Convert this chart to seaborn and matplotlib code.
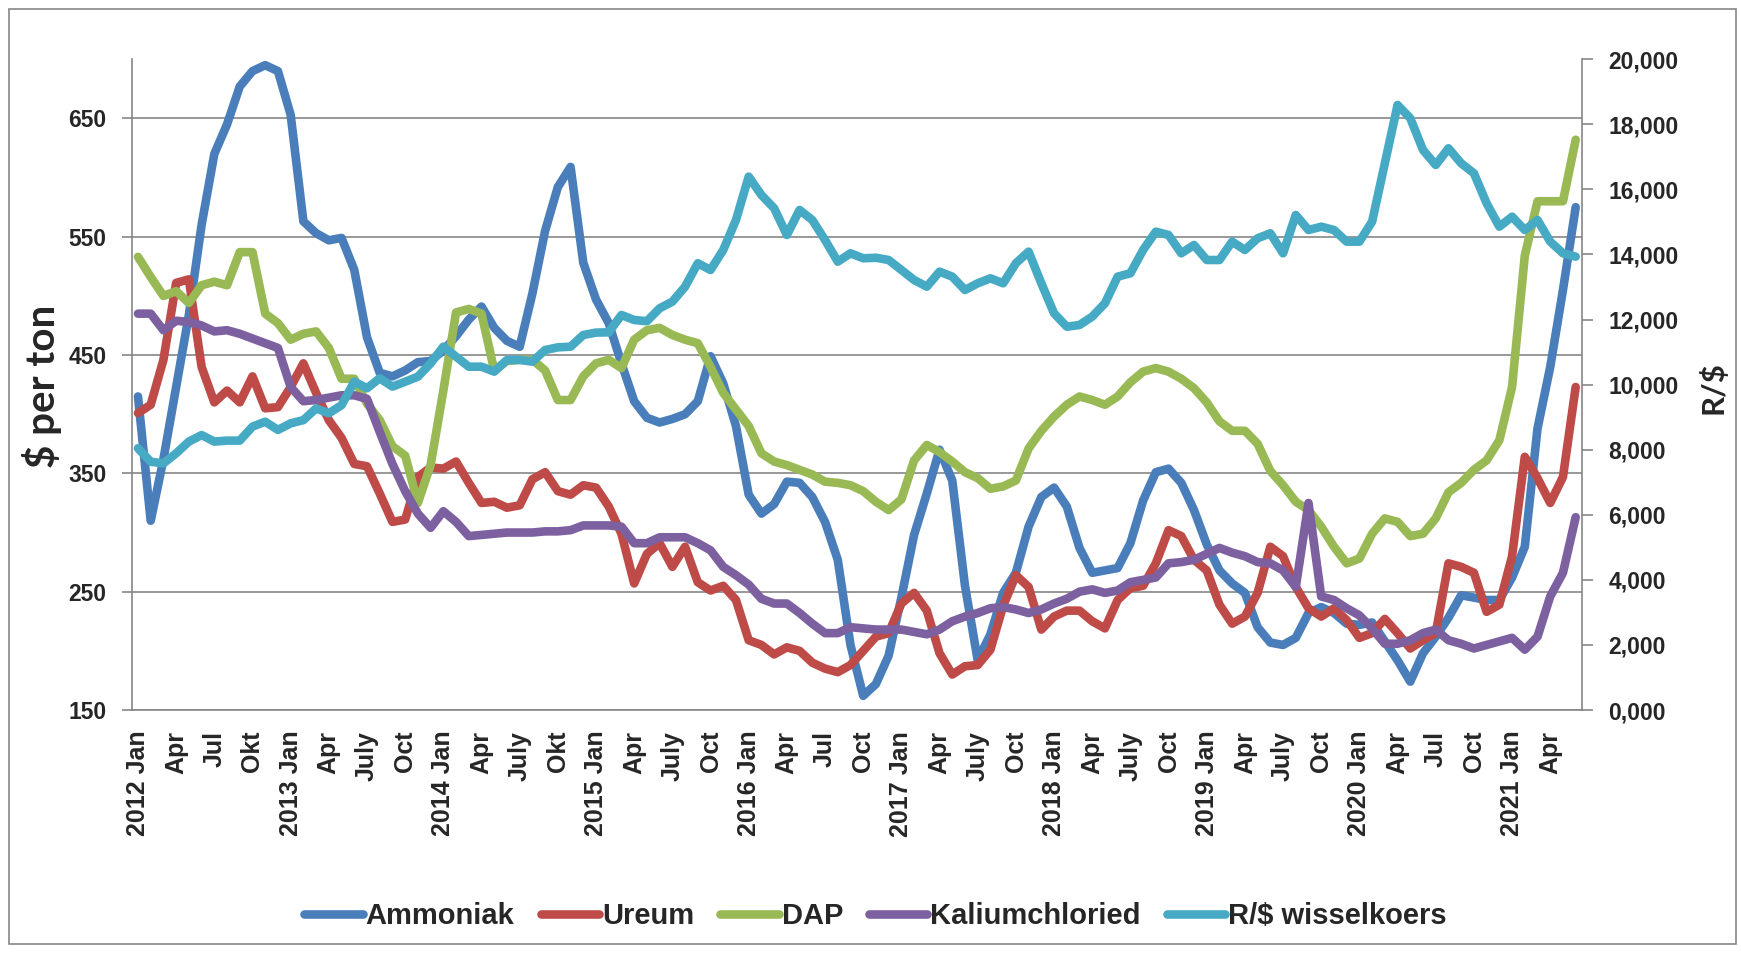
import numpy as np
import pandas as pd
import matplotlib
matplotlib.use("Agg")
import matplotlib.pyplot as plt
from matplotlib.patches import Rectangle
from matplotlib.ticker import FixedLocator
import seaborn as sns

# monthly prices, 2012 Jan .. 2021 Jun (114 months)
ammoniak = [415, 310, 362, 423, 484, 560, 620, 645, 677, 690, 695, 690,
            653, 563, 553, 547, 549, 522, 465, 435, 432, 437, 444, 445,
            454, 466, 480, 491, 473, 462, 457, 502, 555, 592, 609, 528,
            497, 477, 443, 411, 397, 393, 396, 400, 411, 449, 426, 390,
            332, 316, 324, 343, 342, 330, 309, 277, 205, 162, 172, 196,
            245, 298, 333, 370, 344, 255, 192, 214, 249, 266, 305, 330,
            338, 322, 287, 266, 268, 270, 291, 327, 351, 354, 342, 319,
            290, 268, 257, 249, 220, 207, 205, 211, 232, 237, 232, 223,
            222, 224, 208, 192, 174, 198, 212, 228, 247, 245, 243, 243,
            262, 288, 388, 440, 505, 575]
ureum = [401, 408, 446, 511, 514, 440, 410, 420, 410, 432, 405, 406,
         423, 443, 418, 395, 380, 358, 356, 333, 309, 311, 347, 355,
         354, 360, 342, 325, 326, 321, 323, 345, 351, 335, 332, 340,
         338, 322, 299, 257, 282, 291, 271, 288, 258, 251, 255, 243,
         209, 205, 197, 203, 200, 190, 185, 182, 188, 200, 212, 215,
         240, 249, 234, 198, 180, 187, 188, 201, 238, 264, 254, 218,
         229, 234, 234, 225, 219, 243, 253, 255, 274, 302, 297, 277,
         268, 239, 223, 229, 249, 288, 280, 254, 236, 229, 236, 226,
         211, 215, 227, 215, 202, 209, 215, 274, 271, 266, 233, 239,
         280, 364, 346, 325, 347, 423]
dap = [533, 516, 500, 504, 494, 509, 512, 509, 537, 537, 485, 477,
       463, 468, 470, 456, 430, 430, 409, 395, 373, 365, 325, 357,
       420, 486, 489, 485, 437, 445, 446, 446, 437, 412, 412, 432,
       443, 446, 439, 463, 471, 473, 467, 463, 460, 440, 418, 404,
       390, 367, 360, 357, 353, 349, 343, 342, 340, 335, 326, 319,
       328, 361, 374, 368, 360, 351, 346, 337, 339, 344, 371, 386,
       398, 408, 415, 412, 408, 415, 427, 436, 439, 436, 430, 422,
       410, 394, 386, 386, 375, 352, 340, 326, 319, 305, 288, 274,
       278, 299, 312, 309, 297, 299, 312, 334, 342, 353, 361, 378,
       423, 534, 580, 580, 580, 632]
kalium = [485, 485, 471, 479, 478, 475, 470, 471, 468, 464, 460, 456,
          423, 411, 412, 414, 416, 416, 413, 385, 358, 335, 316, 304,
          318, 309, 297, 298, 299, 300, 300, 300, 301, 301, 302, 306,
          306, 306, 305, 291, 291, 296, 296, 296, 291, 285, 271, 264,
          256, 244, 240, 240, 232, 223, 215, 215, 220, 219, 218, 218,
          218, 216, 214, 218, 225, 229, 232, 236, 237, 235, 232, 235,
          240, 244, 250, 252, 249, 251, 258, 260, 262, 274, 275, 277,
          282, 287, 283, 280, 275, 274, 268, 254, 325, 246, 243, 236,
          230, 219, 206, 206, 209, 215, 218, 209, 206, 202, 205, 208,
          211, 201, 212, 246, 266, 313]
wisselkoers = [8044, 7630, 7580, 7890, 8250, 8450, 8250, 8280, 8280, 8710, 8860, 8610,
               8810, 8910, 9270, 9120, 9370, 10090, 9890, 10195, 9940, 10090, 10245, 10656,
               11167, 10860, 10552, 10552, 10400, 10758, 10758, 10707, 11065, 11146, 11167, 11526,
               11600, 11608, 12141, 11987, 11950, 12346, 12550, 13011, 13730, 13524, 14139, 15060,
               16392, 15829, 15420, 14600, 15368, 15060, 14446, 13780, 14037, 13884, 13900, 13831,
               13524, 13217, 13011, 13473, 13319, 12909, 13115, 13268, 13115, 13730, 14087, 13115,
               12193, 11781, 11833, 12090, 12500, 13319, 13422, 14139, 14702, 14600, 14037, 14292,
               13831, 13831, 14395, 14139, 14498, 14652, 14037, 15214, 14753, 14855, 14753, 14395,
               14395, 15010, 16803, 18595, 18187, 17212, 16751, 17264, 16803, 16496, 15574, 14855,
               15162, 14753, 15060, 14395, 14037, 13934]

# every third month carries a label
tick_labels = ["2012 Jan", "Apr", "Jul", "Okt", "2013 Jan", "Apr", "July", "Oct",
               "2014 Jan", "Apr", "July", "Okt", "2015 Jan", "Apr", "July", "Oct",
               "2016 Jan", "Apr", "Jul", "Oct", "2017 Jan", "Apr", "July", "Oct",
               "2018 Jan", "Apr", "July", "Oct", "2019 Jan", "Apr", "July", "Oct",
               "2020 Jan", "Apr", "Jul", "Oct", "2021 Jan", "Apr"]
left_ticks = [150, 250, 350, 450, 550, 650]
right_ticks = list(range(0, 20001, 2000))

names = ["Ammoniak", "Ureum", "DAP", "Kaliumchloried"]
colors = {"Ammoniak": "#4A7EBB", "Ureum": "#BE4B48", "DAP": "#98B954",
          "Kaliumchloried": "#7D60A0", "R/$ wisselkoers": "#46AAC5"}

n = len(ammoniak)
month = np.arange(n)
wide = pd.DataFrame({"Ammoniak": ammoniak, "Ureum": ureum, "DAP": dap,
                     "Kaliumchloried": kalium}, index=month)
wide.index.name = "month"
long_df = wide.reset_index().melt(id_vars="month", var_name="series", value_name="price")
rand_df = pd.DataFrame({"month": month, "rand": wisselkoers})

sns.set_style("white")
plt.rcParams["font.family"] = ["Liberation Sans", "DejaVu Sans"]
grey = "#868686"
LW = 6.2
num_font = dict(fontfamily=["Liberation Sans", "DejaVu Sans"], fontweight="bold")
title_font = dict(fontfamily=["Lato", "DejaVu Sans"], fontweight="bold")

fig = plt.figure(figsize=(17.41, 9.56), dpi=100)
ax = fig.add_axes([0.0756, 0.2573, 0.8331, 0.6807])
ax2 = ax.twinx()

sns.lineplot(data=long_df, x="month", y="price", hue="series", hue_order=names,
             palette=colors, linewidth=LW, ax=ax, legend=False)
sns.lineplot(data=rand_df, x="month", y="rand", color=colors["R/$ wisselkoers"],
             linewidth=LW, ax=ax2, legend=False)
for line in ax.lines + ax2.lines:
    line.set_solid_joinstyle("round")
    line.set_solid_capstyle("round")

ax.set_xlim(-0.5, n - 0.5)
ax.set_ylim(150, 700)
ax2.set_ylim(0, 20000)

# primary y axis
ax.set_yticks(left_ticks, labels=[str(v) for v in left_ticks], fontsize=16.5, **num_font)
ax.yaxis.grid(True, color=grey, linewidth=1.2)
ax.set_axisbelow(True)
ax.tick_params(axis="y", which="major", length=7, width=1.2, color=grey, pad=11)

# secondary y axis, Excel style "0,000"
ax2.set_yticks(right_ticks, labels=[f"{v // 1000},{v % 1000:03d}" for v in right_ticks],
               fontsize=16.5, **num_font)
ax2.tick_params(axis="y", which="major", length=8, width=1.2, color=grey, pad=11)
ax2.grid(False)

# category axis: ticks between months, labels on every third month
ax.xaxis.set_major_locator(FixedLocator(np.arange(0, n, 3)))
ax.set_xticklabels(tick_labels, rotation=90, fontsize=18, fontweight="bold")
ax.xaxis.set_minor_locator(FixedLocator(np.arange(-0.5, n, 1)))
ax.tick_params(axis="x", which="major", length=0, pad=15)
ax.tick_params(axis="x", which="minor", length=6, width=1.2, color=grey)
ax.set_xlabel("")

ax.set_ylabel("$ per ton", fontsize=29, **title_font)
ax.yaxis.set_label_coords(-0.048, 0.498)
ax2.set_ylabel("R/$", fontsize=22.5, **title_font)
ax2.yaxis.set_label_coords(1.080, 0.496)

for a in (ax, ax2):
    for side in ("left", "right", "bottom"):
        a.spines[side].set_color(grey)
        a.spines[side].set_linewidth(1.2)
    a.spines["top"].set_visible(False)
ax.spines["right"].set_visible(False)
ax2.spines["left"].set_visible(False)
ax2.spines["bottom"].set_visible(False)

handles = ax.lines[:4] + ax2.lines[:1]
fig.legend(handles, names + ["R/$ wisselkoers"], loc="center", bbox_to_anchor=(0.503, 0.042),
           ncol=5, frameon=False, handlelength=2.0, handletextpad=0.1, columnspacing=0.9,
           prop=dict(weight="bold", size=21))

fig.patches.append(Rectangle((0.0049, 0.0126), 0.9922, 0.978, transform=fig.transFigure,
                             fill=False, edgecolor=grey, linewidth=1.2))

fig.savefig("out.png", dpi=100)
